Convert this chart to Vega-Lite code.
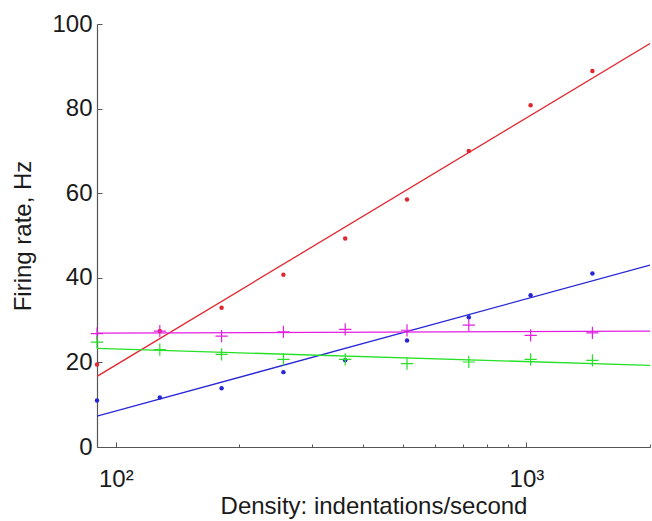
{
  "$schema": "https://vega.github.io/schema/vega-lite/v6.json",
  "autosize": {"type": "none"},
  "width": 553,
  "height": 423,
  "padding": {"left": 97, "top": 24, "right": 2, "bottom": 74},
  "background": "white",
  "config": {
    "view": {"stroke": null},
    "font": "Liberation Sans"
  },
  "datasets": {
    "pts": [
      {"s": "red", "x": 90, "y": 19.5}, {"s": "red", "x": 128, "y": 27.4}, {"s": "red", "x": 181, "y": 32.9},
      {"s": "red", "x": 256, "y": 40.7}, {"s": "red", "x": 362, "y": 49.3}, {"s": "red", "x": 512, "y": 58.5},
      {"s": "red", "x": 724, "y": 70.0}, {"s": "red", "x": 1024, "y": 80.8}, {"s": "red", "x": 1448, "y": 88.9},
      {"s": "blue", "x": 90, "y": 11.0}, {"s": "blue", "x": 128, "y": 11.7}, {"s": "blue", "x": 181, "y": 13.9},
      {"s": "blue", "x": 256, "y": 17.7}, {"s": "blue", "x": 362, "y": 20.5}, {"s": "blue", "x": 512, "y": 25.2},
      {"s": "blue", "x": 724, "y": 30.7}, {"s": "blue", "x": 1024, "y": 35.9}, {"s": "blue", "x": 1448, "y": 41.0}
    ],
    "plus": [
      {"s": "magenta", "x": 90, "y": 26.8}, {"s": "magenta", "x": 128, "y": 27.4}, {"s": "magenta", "x": 181, "y": 26.2},
      {"s": "magenta", "x": 256, "y": 27.2}, {"s": "magenta", "x": 362, "y": 27.8}, {"s": "magenta", "x": 512, "y": 27.6},
      {"s": "magenta", "x": 724, "y": 28.8}, {"s": "magenta", "x": 1024, "y": 26.4}, {"s": "magenta", "x": 1448, "y": 27.0},
      {"s": "green", "x": 90, "y": 24.8}, {"s": "green", "x": 128, "y": 23.0}, {"s": "green", "x": 181, "y": 21.9},
      {"s": "green", "x": 256, "y": 20.7}, {"s": "green", "x": 362, "y": 20.7}, {"s": "green", "x": 512, "y": 19.7},
      {"s": "green", "x": 724, "y": 20.1}, {"s": "green", "x": 1024, "y": 20.7}, {"s": "green", "x": 1448, "y": 20.5}
    ],
    "fits": [
      {"s": "red", "x": 90, "y": 16.7}, {"s": "red", "x": 2000, "y": 95.4},
      {"s": "blue", "x": 90, "y": 7.3}, {"s": "blue", "x": 2000, "y": 43.0},
      {"s": "magenta", "x": 90, "y": 26.9}, {"s": "magenta", "x": 2000, "y": 27.4},
      {"s": "green", "x": 90, "y": 23.3}, {"s": "green", "x": 2000, "y": 19.3}
    ]
  },
  "encoding": {
    "x": {
      "field": "x", "type": "quantitative",
      "scale": {"type": "log", "domain": [90, 2000], "nice": false},
      "axis": {
        "title": "Density: indentations/second",
        "values": [100, 200, 300, 400, 500, 600, 700, 800, 900, 1000, 2000],
        "labelExpr": "datum.value == 100 ? '10²' : (datum.value == 1000 ? '10³' : '')",
        "grid": false,
        "domainColor": "#555555",
        "domainWidth": 1.2,
        "tickColor": "#555555",
        "tickWidth": 1,
        "tickSize": {"condition": {"test": "datum.value == 100 || datum.value == 1000", "value": -5}, "value": -3},
        "labelFontSize": 24,
        "labelColor": "#1a1a1a",
        "labelPadding": 25,
        "labelFlush": false,
        "titleFontSize": 24,
        "titleFontWeight": "normal",
        "titleColor": "#1a1a1a",
        "titlePadding": 3
      }
    },
    "y": {
      "field": "y", "type": "quantitative",
      "scale": {"domain": [0, 100], "nice": false},
      "axis": {
        "title": "Firing rate, Hz",
        "values": [0, 20, 40, 60, 80, 100],
        "grid": false,
        "domainColor": "#555555",
        "domainWidth": 1.2,
        "tickColor": "#555555",
        "tickSize": -5,
        "labelFontSize": 24,
        "labelColor": "#1a1a1a",
        "labelPadding": 10,
        "labelFlush": false,
        "titleFontSize": 24,
        "titleFontWeight": "normal",
        "titleColor": "#1a1a1a",
        "titlePadding": 16
      }
    },
    "color": {
      "field": "s", "type": "nominal", "legend": null,
      "scale": {"domain": ["red", "blue", "magenta", "green"], "range": ["#e3262f", "#2626d6", "#e31ee3", "#26e026"]}
    }
  },
  "layer": [
    {"data": {"name": "fits"}, "mark": {"type": "line", "strokeWidth": 1.3, "clip": true}, "encoding": {"detail": {"field": "s"}}},
    {"data": {"name": "pts"}, "mark": {"type": "point", "shape": "circle", "filled": true, "size": 20, "opacity": 1}},
    {"data": {"name": "plus"}, "mark": {"type": "point", "shape": "M-1,0H1M0,-1V1", "filled": false, "size": 150, "strokeWidth": 1.2, "opacity": 1}}
  ]
}
